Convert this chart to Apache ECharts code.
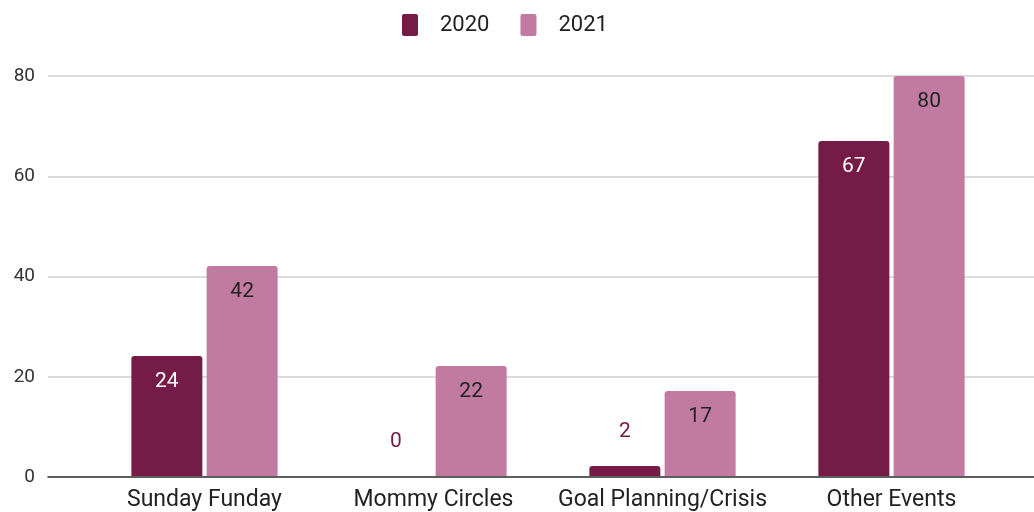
<!DOCTYPE html>
<html>
<head>
<meta charset="utf-8">
<script src="https://cdn.jsdelivr.net/npm/echarts@6/dist/echarts.min.js"></script>
<style>
  html, body { margin: 0; padding: 0; background: #fff; }
  #chart { width: 1034px; height: 512px; }
</style>
</head>
<body>
<div id="chart"></div>
<script>
var categories = ['Sunday Funday', 'Mommy Circles', 'Goal Planning/Crisis', 'Other Events'];
var values2020 = [24, 0, 2, 67];
var values2021 = [42, 22, 17, 80];
var yTicks = [0, 20, 40, 60, 80];

var FONT = 'Roboto';
var DARK = '#741b47';
var PINK = '#c27ba0';

// small bars get their label above the bar, like the original
function toItems(vals, insideColor) {
    return vals.map(function (v) {
        if (v < 5) {
            return { value: v, label: { position: 'top', distance: 24, color: DARK } };
        }
        return { value: v, label: { color: insideColor } };
    });
}

var myChart = echarts.init(document.getElementById('chart'));

var option = {
    animation: false,
    textStyle: { fontFamily: FONT },
    legend: {
        top: 9,
        left: 397,
        itemWidth: 16,
        itemHeight: 22,
        itemGap: 31,
        icon: 'path://M2,0 L14,0 Q16,0 16,2 L16,20 Q16,22 14,22 L2,22 Q0,22 0,20 L0,2 Q0,0 2,0 Z',
        textStyle: { fontSize: 22, color: '#222', fontFamily: FONT, padding: [0, 0, 0, 17] },
        data: ['2020', '2021']
    },
    grid: [
        { left: 48, right: 0, top: 76, bottom: 35 },
        { left: 90, right: 28, top: 76, bottom: 35 }
    ],
    xAxis: [
        {
            gridIndex: 0, type: 'category', data: [''],
            axisLine: { lineStyle: { color: '#333', width: 1.5 } },
            axisTick: { show: false }, axisLabel: { show: false }
        },
        {
            gridIndex: 1, type: 'category', data: categories,
            axisLine: { show: false }, axisTick: { show: false },
            axisLabel: { interval: 0, fontSize: 23, color: '#222', margin: 13, fontFamily: FONT }
        }
    ],
    yAxis: [
        {
            gridIndex: 0, type: 'value', min: yTicks[0], max: yTicks[yTicks.length - 1], interval: 20,
            axisLine: { show: false }, axisTick: { show: false },
            axisLabel: { fontSize: 19, color: '#333', margin: 13, fontFamily: FONT },
            splitLine: { lineStyle: { color: '#d0d0d0', width: 1.5 } }
        },
        {
            gridIndex: 1, type: 'value', min: yTicks[0], max: yTicks[yTicks.length - 1], interval: 20,
            show: false, splitLine: { show: false }
        }
    ],
    series: [
        {
            name: '2020', type: 'bar', xAxisIndex: 1, yAxisIndex: 1,
            barWidth: 71, barGap: '6%',
            itemStyle: { color: DARK, borderRadius: [3, 3, 0, 0] },
            label: { show: true, position: 'insideTop', distance: 15, fontSize: 21, fontFamily: FONT },
            data: toItems(values2020, '#fff')
        },
        {
            name: '2021', type: 'bar', xAxisIndex: 1, yAxisIndex: 1,
            barWidth: 71,
            itemStyle: { color: PINK, borderRadius: [3, 3, 0, 0] },
            label: { show: true, position: 'insideTop', distance: 15, fontSize: 21, fontFamily: FONT },
            data: toItems(values2021, '#222')
        }
    ]
};

myChart.setOption(option);
</script>
</body>
</html>
